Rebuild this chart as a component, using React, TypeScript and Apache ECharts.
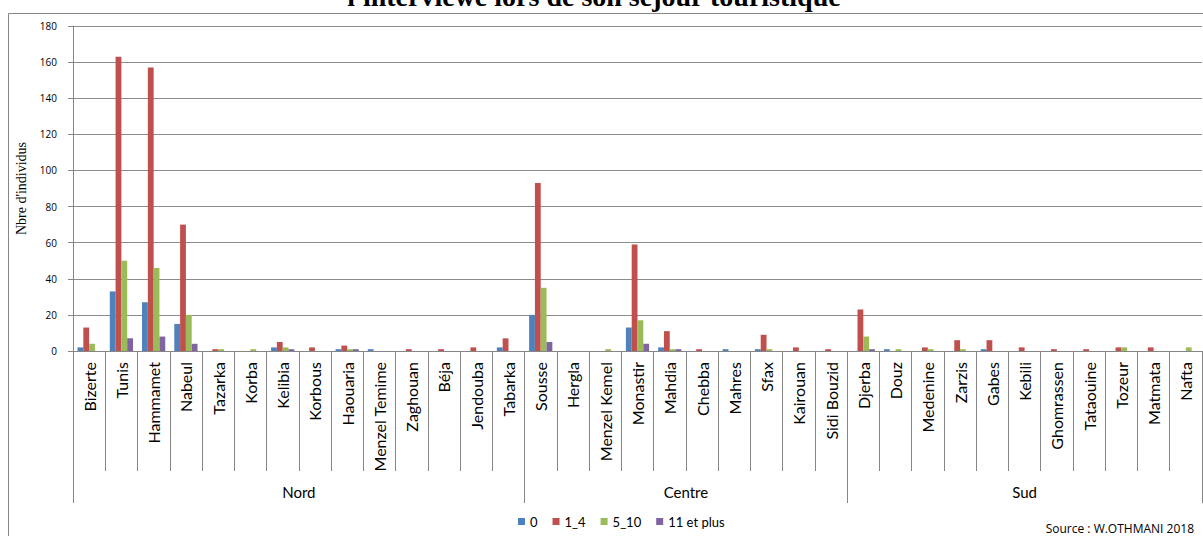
import React, { useEffect, useRef } from "react";
import * as echarts from "echarts";

const categories = [
  "Bizerte", "Tunis", "Hammamet", "Nabeul", "Tazarka", "Korba", "Kelibia", "Korbous", "Haouaria",
  "Menzel Temime", "Zaghouan", "Béja", "Jendouba", "Tabarka",
  "Sousse", "Hergla", "Menzel Kemel", "Monastir", "Mahdia", "Chebba", "Mahres", "Sfax", "Kairouan", "Sidi Bouzid",
  "Djerba", "Douz", "Medenine", "Zarzis", "Gabes", "Kebili", "Ghomrassen", "Tataouine", "Tozeur", "Matmata", "Nafta",
];
const regionNames = ["Nord", "Centre", "Sud"];
const regionSizes = [14, 10, 11];

const seriesNames = ["0", "1_4", "5_10", "11 et plus"];
const values0 = [2, 33, 27, 15, 0, 0, 2, 0, 1, 1, 0, 0, 0, 2, 20, 0, 0, 13, 2, 0, 1, 1, 0, 0, 0, 1, 0, 0, 1, 0, 0, 0, 0, 0, 0];
const values1_4 = [13, 163, 157, 70, 1, 0, 5, 2, 3, 0, 1, 1, 2, 7, 93, 0, 0, 59, 11, 1, 0, 9, 2, 1, 23, 0, 2, 6, 6, 2, 1, 1, 2, 2, 0];
const values5_10 = [4, 50, 46, 20, 1, 1, 2, 0, 1, 0, 0, 0, 0, 0, 35, 0, 1, 17, 1, 0, 0, 1, 0, 0, 8, 1, 1, 1, 0, 0, 0, 0, 2, 0, 2];
const values11 = [0, 7, 8, 4, 0, 0, 1, 0, 1, 0, 0, 0, 0, 0, 5, 0, 0, 4, 1, 0, 0, 0, 0, 0, 1, 0, 0, 0, 0, 0, 0, 0, 0, 0, 0];
const colors = ["#4F81BD", "#C0504D", "#9BBB59", "#8064A2"];

const yTicks = { min: 0, max: 180, interval: 20 };
const titleText = "l'interviewé lors de son séjour touristique";
const sourceText = "Source : W.OTHMANI 2018";

export default function App() {
  const ref = useRef<HTMLDivElement>(null);
  useEffect(() => {
    if (!ref.current) return;
    const chart = echarts.init(ref.current, undefined, { renderer: "svg" });
    const bounds: number[] = [0];
    regionSizes.forEach((s) => bounds.push(bounds[bounds.length - 1] + s));
    const centers = regionSizes.map((s, i) => bounds[i] + s / 2);
    const total = bounds[bounds.length - 1];
    const allValues = [values0, values1_4, values5_10, values11];
    const sans = "'Open Sans', sans-serif";
    const lato = "Lato, sans-serif";
    const axisGray = "#868686";

    chart.setOption({
      animation: false,
      grid: { left: 73, right: 1, top: 26, bottom: 185, containLabel: false },
      legend: {
        data: seriesNames,
        left: 513,
        top: 510,
        icon: "rect",
        itemWidth: 7,
        itemHeight: 7,
        itemGap: 15,
        textStyle: { fontFamily: lato, fontSize: 13, color: "#000" },
      },
      xAxis: [
        {
          type: "category",
          data: categories,
          position: "bottom",
          axisLine: { show: true, lineStyle: { color: axisGray } },
          axisTick: { show: true, length: 120, lineStyle: { color: axisGray } },
          axisLabel: { interval: 0, rotate: 90, margin: 11, fontFamily: lato, fontSize: 16, color: "#000" },
          splitLine: { show: false },
        },
        {
          type: "value",
          min: 0,
          max: total,
          position: "bottom",
          axisLine: { show: false },
          axisTick: { show: true, length: 152, customValues: bounds, lineStyle: { color: axisGray } },
          axisLabel: {
            show: true,
            customValues: centers,
            margin: 133,
            fontFamily: lato,
            fontSize: 15,
            color: "#000",
            formatter: (v: number) => {
              const i = centers.findIndex((c) => Math.abs(c - v) < 1e-6);
              return i >= 0 ? regionNames[i] : "";
            },
          },
          splitLine: { show: false },
        },
      ],
      yAxis: {
        type: "value",
        min: yTicks.min,
        max: yTicks.max,
        interval: yTicks.interval,
        name: "Nbre d'individus",
        nameLocation: "middle",
        nameRotate: 90,
        nameGap: 30,
        nameTextStyle: { fontFamily: "'Liberation Serif', serif", fontSize: 14, color: "#000" },
        axisLine: { show: true, lineStyle: { color: axisGray } },
        axisTick: { show: true, length: 5, lineStyle: { color: axisGray } },
        axisLabel: { margin: 16, fontFamily: sans, fontSize: 10, color: "#000" },
        splitLine: { show: true, lineStyle: { color: "#8c8c8c", width: 1 } },
      },
      series: seriesNames.map((name, i) => ({
        name,
        type: "bar",
        xAxisIndex: 0,
        data: allValues[i],
        barGap: "0%",
        barCategoryGap: "28%",
        itemStyle: { color: colors[i] },
      })),
      graphic: [
        {
          type: "rect",
          silent: true,
          shape: { x: 8.5, y: 13.5, width: 1210, height: 540 },
          style: { fill: "none", stroke: axisGray, lineWidth: 1 },
          z: -10,
        },
        {
          type: "text",
          x: 594,
          y: 10,
          style: {
            text: titleText,
            fontFamily: "'Liberation Serif', serif",
            fontWeight: "bold",
            fontSize: 28,
            fill: "#000",
            textAlign: "center",
            textVerticalAlign: "bottom",
          },
        },
        {
          type: "text",
          x: 1194,
          y: 528,
          style: {
            text: sourceText,
            fontFamily: sans,
            fontSize: 12,
            fill: "#000",
            textAlign: "right",
            textVerticalAlign: "middle",
          },
        },
      ],
    });
    return () => chart.dispose();
  }, []);
  return (
    <div
      ref={ref}
      style={{ position: "absolute", left: 0, top: 0, width: 1203, height: 536 }}
    />
  );
}
